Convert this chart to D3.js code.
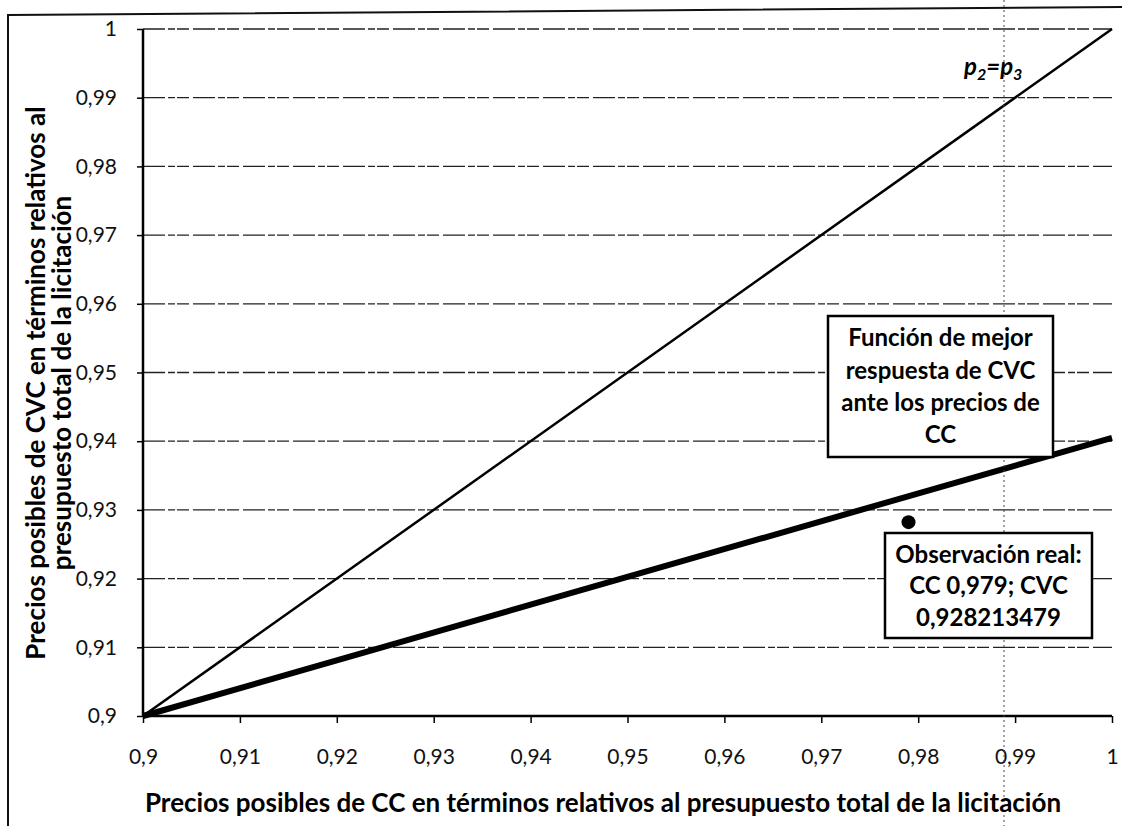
<!DOCTYPE html>
<html>
<head>
<meta charset="utf-8">
<script src="https://cdn.jsdelivr.net/npm/d3@7/dist/d3.min.js"></script>
<style>
  body { margin: 0; background: #fff; }
  svg { font-family: Lato, "Open Sans", sans-serif; }
</style>
</head>
<body>
<div id="chart"></div>
<script>
'use strict';
// data
var xTicks = [0.9, 0.91, 0.92, 0.93, 0.94, 0.95, 0.96, 0.97, 0.98, 0.99, 1];
var yTicks = [0.9, 0.91, 0.92, 0.93, 0.94, 0.95, 0.96, 0.97, 0.98, 0.99, 1];
var priceCC = [0.9, 1];
var equalPrices = [0.9, 1];          // p2 = p3
var bestResponse = [0.9, 0.9405];    // best response of CVC
var observed = [{ x: 0.979, y: 0.928213479 }];
var observedLines = ['Observación real:', 'CC 0,979; CVC', '0,928213479'];
var responseLines = ['Función de mejor', 'respuesta de CVC', 'ante los precios de', 'CC'];

var width = 1122, height = 826;
var svg = d3.select('#chart').append('svg')
  .attr('width', width)
  .attr('height', height);

var x = d3.scaleLinear().domain([0.9, 1]).range([143, 1112]);
var y = d3.scaleLinear().domain([0.9, 1]).range([716, 29]);

function fmt(d) {
  return d3.format('.2~f')(d).replace('.', ',');
}

// outer frame of the scan
svg.append('path')
  .attr('d', 'M8,826 L8,15 L1122,7')
  .attr('fill', 'none')
  .attr('stroke', '#111')
  .attr('stroke-width', 2);

// gridlines
svg.append('g').selectAll('line')
  .data(yTicks.slice(1))
  .enter().append('line')
  .attr('x1', x(0.9)).attr('x2', x(1))
  .attr('y1', function(d) { return y(d); })
  .attr('y2', function(d) { return y(d); })
  .attr('stroke', '#222')
  .attr('stroke-width', 1.3)
  .attr('stroke-dasharray', '22,3,7,2,12,4');

// axes
var yAxis = svg.append('g')
  .attr('transform', 'translate(' + x(0.9) + ',0)')
  .call(d3.axisLeft(y).tickValues(yTicks).tickFormat(fmt).tickSize(6).tickPadding(20));
var xAxis = svg.append('g')
  .attr('transform', 'translate(0,' + y(0.9) + ')')
  .call(d3.axisBottom(x).tickValues(xTicks).tickFormat(fmt).tickSize(7).tickPadding(26));

[yAxis, xAxis].forEach(function(g) {
  g.attr('font-family', null).attr('font-size', null);
  g.select('.domain').attr('stroke', '#000').attr('stroke-width', 2.5);
  g.selectAll('.tick line').attr('stroke', '#000').attr('stroke-width', 1.5);
  g.selectAll('.tick text').attr('fill', '#111').style('font-size', '21px');
});
yAxis.select('.domain').attr('d', 'M0,' + y(1) + 'V' + y(0.9));
xAxis.select('.domain').attr('d', 'M' + x(0.9) + ',0H' + x(1));

// lines
var line = d3.line()
  .x(function(d) { return x(d[0]); })
  .y(function(d) { return y(d[1]); });

svg.append('path')
  .datum(d3.zip(priceCC, equalPrices))
  .attr('d', line)
  .attr('fill', 'none')
  .attr('stroke', '#000')
  .attr('stroke-width', 2.5);

svg.append('path')
  .datum(d3.zip(priceCC, bestResponse))
  .attr('d', line)
  .attr('fill', 'none')
  .attr('stroke', '#000')
  .attr('stroke-width', 6);

svg.selectAll('circle.obs')
  .data(observed)
  .enter().append('circle')
  .attr('class', 'obs')
  .attr('cx', function(d) { return x(d.x); })
  .attr('cy', function(d) { return y(d.y); })
  .attr('r', 7)
  .attr('fill', '#000');

// scan fold line
svg.append('line')
  .attr('x1', 1004).attr('x2', 1004)
  .attr('y1', 0).attr('y2', height)
  .attr('stroke', '#444')
  .attr('stroke-width', 1)
  .attr('stroke-dasharray', '2,3');

// p2=p3 label
var pl = svg.append('text')
  .attr('x', 964).attr('y', 75)
  .style('font-size', '24px')
  .style('font-weight', 'bold')
  .style('font-style', 'italic');
pl.append('tspan').text('p');
pl.append('tspan').text('2').attr('dy', 5).style('font-size', '16px');
pl.append('tspan').text('=p').attr('dy', -5);
pl.append('tspan').text('3').attr('dy', 5).style('font-size', '16px');

// annotation boxes
function box(x0, y0, w, h, lines, lineY) {
  var g = svg.append('g');
  g.append('rect')
    .attr('x', x0).attr('y', y0).attr('width', w).attr('height', h)
    .attr('fill', '#fff').attr('stroke', '#000').attr('stroke-width', 2.5);
  g.selectAll('text').data(lines).enter().append('text')
    .attr('x', x0 + w / 2)
    .attr('y', function(d, i) { return lineY[i]; })
    .attr('text-anchor', 'middle')
    .attr('dominant-baseline', 'middle')
    .style('font-size', '24px')
    .style('font-weight', 'bold')
    .text(function(d) { return d; });
}
box(828, 316, 225, 141, responseLines, [340, 373, 405, 437]);
box(885, 533, 207, 105, observedLines, [557, 588, 620]);

// axis titles
svg.append('text')
  .attr('x', 603).attr('y', 805)
  .attr('text-anchor', 'middle')
  .attr('dominant-baseline', 'middle')
  .style('font-size', '26px')
  .style('font-weight', 'bold')
  .text('Precios posibles de CC en términos relativos al presupuesto total de la licitación');

var yt = svg.append('text')
  .attr('transform', 'translate(45,383) rotate(-90)')
  .attr('text-anchor', 'middle')
  .style('font-size', '26px')
  .style('font-weight', 'bold');
yt.append('tspan').attr('x', 0).attr('dy', 0).text('Precios posibles de CVC en términos relativos al');
yt.append('tspan').attr('x', 0).attr('dy', 26).text('presupuesto total de la licitación');
</script>
</body>
</html>
